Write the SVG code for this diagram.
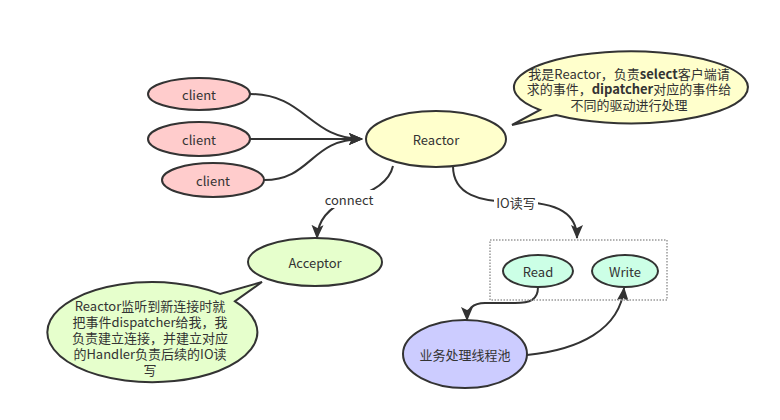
<svg xmlns="http://www.w3.org/2000/svg" width="780" height="420" viewBox="0 0 780 420">
<defs>
<style>
text{font-family:"Noto Sans CJK SC","Noto Sans",sans-serif;font-size:13px;fill:#333;text-anchor:middle;dominant-baseline:central}
.n{stroke:#333;stroke-width:2}
.c{fill:none;stroke:#333;stroke-width:2}
.b{font-weight:bold}
</style>
<marker id="ah" markerUnits="userSpaceOnUse" markerWidth="14" markerHeight="14" viewBox="0 0 14 14" refX="13" refY="7" orient="auto">
<path d="M0,1 L14,7 L0,13 L3,7 z" fill="#333"/>
</marker>
</defs>
<rect width="780" height="420" fill="#fff"/>
<g id="connectors">
<path class="c" d="M250,94 C305,94 310,139 362,139" marker-end="url(#ah)"/>
<path class="c" d="M250,139 L362,139" marker-end="url(#ah)"/>
<path class="c" d="M264,180 C312,180 310,139 362,139" marker-end="url(#ah)"/>
<path class="c" d="M393,166 Q388,188 349,199 Q318,212 317,238" marker-end="url(#ah)"/>
<path class="c" d="M453,166 C453,195 480,202 516,202 C560,202 577,215 577,238" marker-end="url(#ah)"/>
<path class="c" d="M538,287 C538,300 530,303 515,303 L485,303 C472,303 467,310 467,320" marker-end="url(#ah)"/>
<path class="c" d="M527,355 C578,350 620,330 624,288" marker-end="url(#ah)"/>
<rect x="321" y="190" width="56" height="18" fill="#fff"/>
<text x="349" y="199">connect</text>
<rect x="494" y="193" width="44" height="18" fill="#fff"/>
<text x="516" y="202">IO读写</text>
</g>
<g id="client1"><ellipse class="n" cx="199" cy="94" rx="51" ry="16" fill="#ffcccc"/><text x="199" y="94">client</text></g>
<g id="client2"><ellipse class="n" cx="199" cy="139" rx="51" ry="17" fill="#ffcccc"/><text x="199" y="139">client</text></g>
<g id="client3"><ellipse class="n" cx="213" cy="180" rx="51" ry="17" fill="#ffcccc"/><text x="213" y="180">client</text></g>
<g id="reactor"><ellipse class="n" cx="436" cy="139" rx="70" ry="28" fill="#ffffcc"/><text x="436" y="139">Reactor</text></g>
<g id="acceptor"><ellipse class="n" cx="315" cy="262" rx="67" ry="24" fill="#e6ffcc"/><text x="315" y="262">Acceptor</text></g>
<g id="iobox"><rect x="490" y="240" width="177" height="60" fill="none" stroke="#999" stroke-width="1.5" stroke-dasharray="1.5,1.5"/></g>
<g id="read"><ellipse class="n" cx="538" cy="271" rx="35" ry="16" fill="#ccffe6"/><text x="538" y="271">Read</text></g>
<g id="write"><ellipse class="n" cx="625" cy="271" rx="33" ry="16" fill="#ccffe6"/><text x="625" y="271">Write</text></g>
<g id="pool"><ellipse class="n" cx="465" cy="354" rx="62" ry="34" fill="#ccccff"/><text x="465" y="354">业务处理线程池</text></g>
<g id="reactorNote">
<path class="n" fill="#ffffcc" d="M540,110 A117,36 0 1 1 556,115 L512,125 Z"/>
<text x="629" y="73">我是Reactor，负责<tspan class="b">select</tspan>客户端请</text>
<text x="629" y="88">求的事件，<tspan class="b">dipatcher</tspan>对应的事件给</text>
<text x="629" y="104">不同的驱动进行处理</text>
</g>
<g id="acceptorNote">
<path class="n" fill="#e6ffcc" d="M235,301.3 A105,50 0 1 1 220,293.9 L262,282 Z"/>
<text x="150" y="305">Reactor监听到新连接时就</text>
<text x="150" y="321">把事件dispatcher给我，我</text>
<text x="150" y="337">负责建立连接，并建立对应</text>
<text x="150" y="353">的Handler负责后续的IO读</text>
<text x="150" y="369">写</text>
</g>
</svg>
